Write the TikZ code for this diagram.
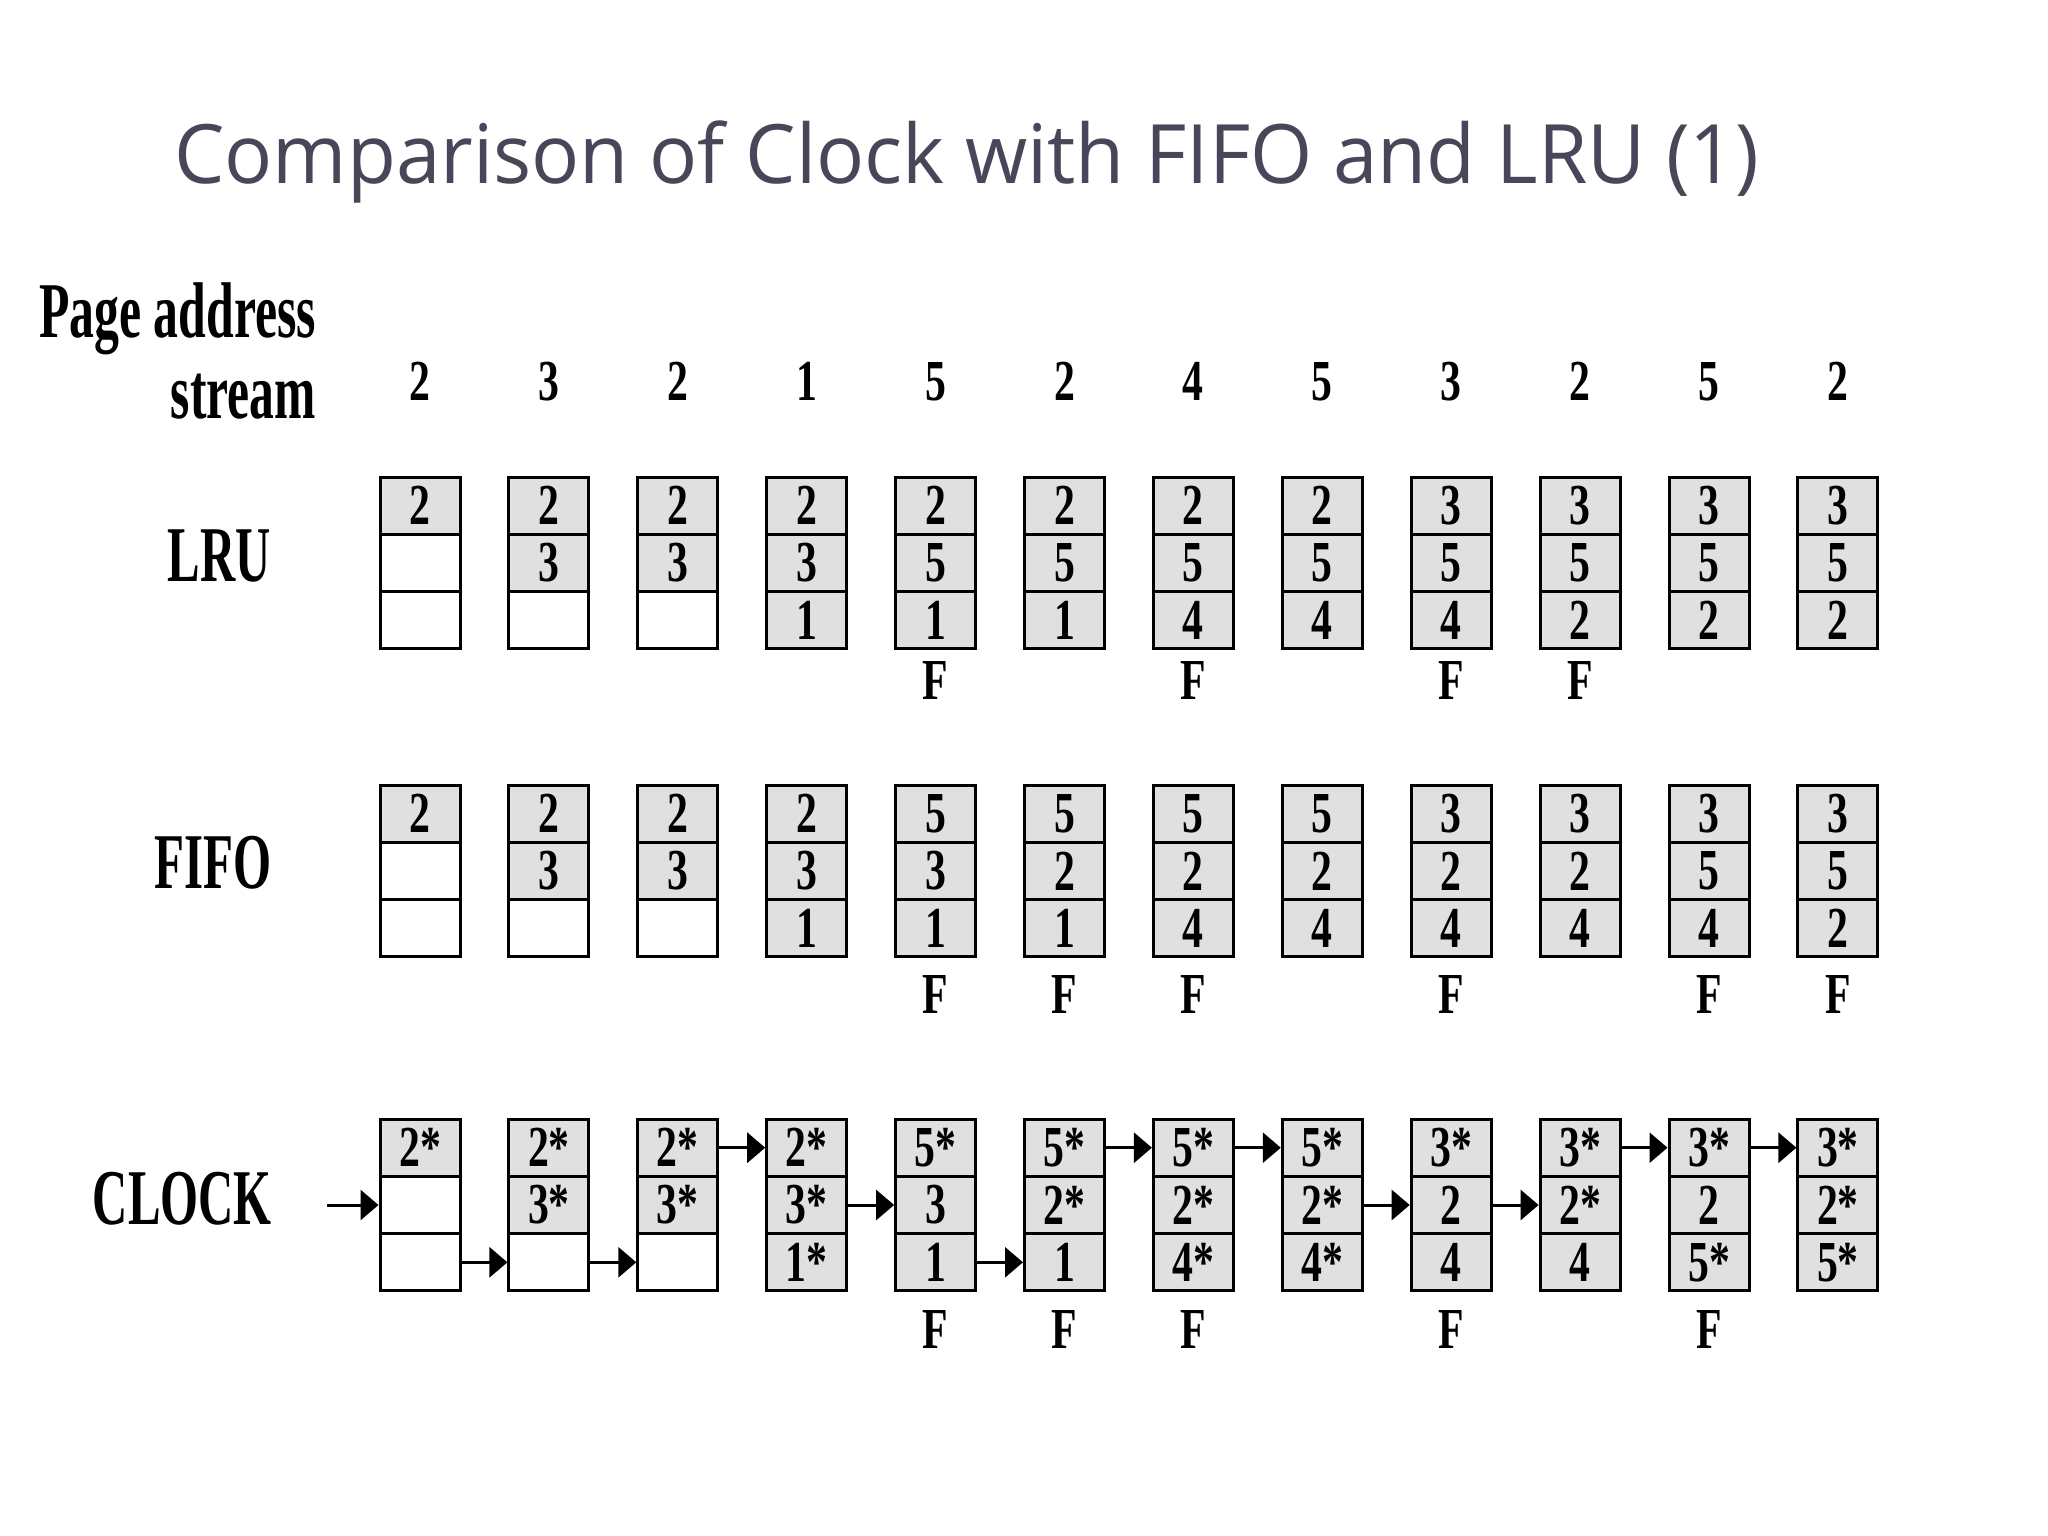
\documentclass[tikz,border=0pt]{standalone}
\usepackage{fontspec}
\setmainfont{Liberation Serif}
\newfontfamily\titlefont{Open Sans}
\usetikzlibrary{arrows.meta}
\definecolor{cellgray}{HTML}{E0E0E0}
\definecolor{titlecol}{HTML}{474759}
\newcommand\dg[1]{\scalebox{0.72}[1]{\fontsize{58}{60}\selectfont\bfseries #1}}
\newcommand\lb[2]{\resizebox{#1}{\height}{\fontsize{79}{85}\selectfont\bfseries #2}}
\newcommand\mkcell[4]{\edef\tmpv{#4}\def\tmpe{e}%
  \ifx\tmpv\tmpe\node[emptycell] (#1) at (#2,#3) {};%
  \else\node[fullcell] (#1) at (#2,#3) {\dg{#4}};\fi}
\begin{document}
\begin{tikzpicture}[x=1pt,y=-1pt,
  cell/.style={draw,line width=3pt,minimum width=80pt,minimum height=57.3pt,inner sep=0pt},
  fullcell/.style={cell,fill=cellgray},
  emptycell/.style={cell,fill=white},
  ptr/.style={line width=3pt,-{Triangle[length=18pt,width=30pt]}},
  lbl/.style={inner sep=0pt}]
\fill[white] (0,0) rectangle (2048,1536);
\useasboundingbox (0,0) rectangle (2048,1536);
% title
\node[lbl,anchor=base west,text=titlecol] (title) at (174,183)
  {\resizebox{1585pt}{\height}{\titlefont\fontsize{82}{90}\selectfont Comparison of Clock with FIFO and LRU (1)}};
% left labels
\node[lbl,anchor=base west] (pa) at (39,337) {\lb{277pt}{Page address}};
\node[lbl,anchor=base east] (st) at (316,418) {\lb{145pt}{stream}};
\node[lbl,anchor=base east] (lru) at (271,581) {\lb{103pt}{LRU}};
\node[lbl,anchor=base east] (fifo) at (272,888) {\lb{117pt}{FIFO}};
\node[lbl,anchor=base east] (clock) at (272,1224) {\lb{179pt}{CLOCK}};
% stream
\foreach \i/\s in {1/2,2/3,3/2,4/1,5/5,6/2,7/4,8/5,9/3,10/2,11/5,12/2}{
  \pgfmathsetmacro\cx{420+128.9*(\i-1)}
  \node[lbl,anchor=base] (s\i) at (\cx,400) {\dg{\s}};
}
% LRU
\foreach \i/\a/\b/\c in {1/2/e/e,2/2/3/e,3/2/3/e,4/2/3/1,5/2/5/1,6/2/5/1,7/2/5/4,8/2/5/4,9/3/5/4,10/3/5/2,11/3/5/2,12/3/5/2}{
  \pgfmathsetmacro\cx{420+128.9*(\i-1)}
  \mkcell{L\i-1}{\cx}{505.7}{\a}
  \mkcell{L\i-2}{\cx}{563}{\b}
  \mkcell{L\i-3}{\cx}{620.3}{\c}
}
\foreach \i in {5,7,9,10}{
  \node[lbl,anchor=base] (LF\i) at (L\i-3 |- 0,699) {\dg{F}};
}
% FIFO
\foreach \i/\a/\b/\c in {1/2/e/e,2/2/3/e,3/2/3/e,4/2/3/1,5/5/3/1,6/5/2/1,7/5/2/4,8/5/2/4,9/3/2/4,10/3/2/4,11/3/5/4,12/3/5/2}{
  \pgfmathsetmacro\cx{420+128.9*(\i-1)}
  \mkcell{P\i-1}{\cx}{813.7}{\a}
  \mkcell{P\i-2}{\cx}{871}{\b}
  \mkcell{P\i-3}{\cx}{928.3}{\c}
}
\foreach \i in {5,6,7,9,11,12}{
  \node[lbl,anchor=base] (PF\i) at (P\i-3 |- 0,1013) {\dg{F}};
}
% CLOCK
\foreach \i/\a/\b/\c in {1/2*/e/e,2/2*/3*/e,3/2*/3*/e,4/2*/3*/1*,5/5*/3/1,6/5*/2*/1,7/5*/2*/4*,8/5*/2*/4*,9/3*/2/4,10/3*/2*/4,11/3*/2/5*,12/3*/2*/5*}{
  \pgfmathsetmacro\cx{420+128.9*(\i-1)}
  \mkcell{C\i-1}{\cx}{1147.7}{\a}
  \mkcell{C\i-2}{\cx}{1205}{\b}
  \mkcell{C\i-3}{\cx}{1262.3}{\c}
}
\foreach \i in {5,6,7,9,11}{
  \node[lbl,anchor=base] (CF\i) at (C\i-3 |- 0,1348) {\dg{F}};
}
\coordinate (cin) at (327,1205);
\draw[ptr] (cin) -- (C1-2.west);
\foreach \i/\r in {1/3,2/3,3/1,4/2,5/3,6/1,7/1,8/2,9/2,10/1,11/1}{
  \pgfmathtruncatemacro\j{\i+1}
  \draw[ptr] (C\i-\r.east) -- (C\j-\r.west);
}
\end{tikzpicture}
\end{document}
